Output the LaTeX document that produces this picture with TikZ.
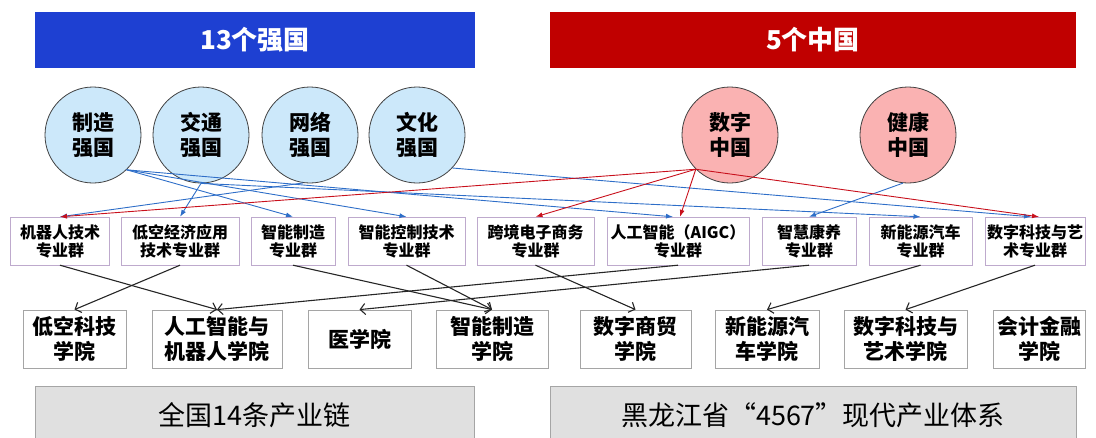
\documentclass[tikz,border=0pt]{standalone}
\usepackage{fontspec}
\setmainfont{Noto Sans CJK SC}
\usepackage{tikz}
\usetikzlibrary{arrows.meta}
\definecolor{bannerblue}{RGB}{30,64,210}
\definecolor{bannerred}{RGB}{192,0,0}
\definecolor{circblue}{RGB}{204,232,250}
\definecolor{circpink}{RGB}{250,178,178}
\definecolor{lineblue}{RGB}{46,110,200}
\definecolor{linered}{RGB}{200,16,28}
\definecolor{boxpurple}{RGB}{190,170,205}
\definecolor{boxgray}{RGB}{165,165,165}
\definecolor{bargray}{RGB}{224,224,224}
\tikzset{
  banner/.style={minimum height=56pt,inner sep=0pt,text=white,font=\bfseries\fontsize{26}{26}\selectfont},
  bar/.style={fill=bargray,draw=boxgray,minimum height=58pt,inner sep=0pt,font=\fontsize{27}{27}\selectfont},
}

\begin{document}
\begin{tikzpicture}[x=1pt,y=-1pt]
  \useasboundingbox (0,0) rectangle (1096,437);
  % top banners
  \node[banner,fill=bannerblue,minimum width=440pt] (qg) at (255,40)  {13个强国};
  \node[banner,fill=bannerred,minimum width=526pt]  (zg) at (813,40)  {5个中国};
  % circles
  \begin{scope}[every node/.style={circle,draw=black!75,thick,minimum size=96pt,inner sep=0pt,
      align=center,font=\bfseries\fontsize{21}{25}\selectfont}]
    \node[fill=circblue] (zz) at (93,135)  {制造\\强国};
    \node[fill=circblue] (jt) at (201,135) {交通\\强国};
    \node[fill=circblue] (wl) at (310,135) {网络\\强国};
    \node[fill=circblue] (wh) at (417,135) {文化\\强国};
    \node[fill=circpink] (sz) at (730,135) {数字\\中国};
    \node[fill=circpink] (jk) at (908,135) {健康\\中国};
  \end{scope}
  % professional groups
  \begin{scope}[every node/.style={rectangle,draw=boxpurple,fill=white,minimum height=48pt,inner sep=0pt,
      align=center,font=\bfseries\fontsize{16}{18}\selectfont}]
    \node[minimum width=99pt]  (jqr)  at (60,241)    {机器人技术\\专业群};
    \node[minimum width=118pt] (dk)   at (180,241)   {低空经济应用\\技术专业群};
    \node[minimum width=84pt]  (znzz) at (293,241)   {智能制造\\专业群};
    \node[minimum width=117pt] (znkz) at (406.5,241) {智能控制技术\\专业群};
    \node[minimum width=117pt] (kj)   at (535.5,241) {跨境电子商务\\专业群};
    \node[minimum width=142pt] (ai)   at (678,241)   {人工智能（AIGC）\\专业群};
    \node[minimum width=94pt]  (zhky) at (809,241)   {智慧康养\\专业群};
    \node[minimum width=103pt] (xny)  at (920.5,241) {新能源汽车\\专业群};
    \node[minimum width=100pt] (szkj) at (1035,241)  {数字科技与艺\\术专业群};
  \end{scope}
  % colleges
  \begin{scope}[every node/.style={rectangle,draw=boxgray,thick,fill=white,minimum height=58pt,inner sep=0pt,
      align=center,font=\bfseries\fontsize{21}{25}\selectfont}]
    \node[minimum width=103pt] (dkxy)  at (74.5,339)  {低空科技\\学院};
    \node[minimum width=130pt] (aixy)  at (217,339)   {人工智能与\\机器人学院};
    \node[minimum width=103pt] (yxy)   at (359.5,339) {医学院};
    \node[minimum width=112pt] (zzxy)  at (492,339)   {智能制造\\学院};
    \node[minimum width=111pt] (smxy)  at (635.5,339) {数字商贸\\学院};
    \node[minimum width=104pt] (xnyxy) at (767,339)   {新能源汽\\车学院};
    \node[minimum width=123pt] (kjxy)  at (905.5,339) {数字科技与\\艺术学院};
    \node[minimum width=92pt]  (kjjr)  at (1039,339)  {会计金融\\学院};
  \end{scope}
  % bottom bars
  \node[bar,minimum width=439pt] (cyl)  at (254.5,415) {全国14条产业链};
  \node[bar,minimum width=526pt] (hlj)  at (813,415)   {黑龙江省“4567”现代产业体系};
  % strong-country links
  \begin{scope}[>={Latex[length=7pt,width=5pt]},every edge/.style={draw=lineblue,line width=0.9pt,->}]
    \path (zz.-46) edge (znzz.north);     \path (zz.-46) edge (znkz.north);
    \path (zz.-46) edge ([xshift=-5pt]ai.north);
    \path (jt.-90) edge (dk.north);       \path (jt.-90) edge (xny.north);
    \path (wl.-98) edge (jqr.north);      \path (wh.-43) edge ([xshift=-4pt]szkj.north);
    \path (jk.-96) edge (zhky.north);
  \end{scope}
  \begin{scope}[>={Latex[length=7pt,width=5pt]},every edge/.style={draw=linered,line width=0.9pt,->}]
    \path (sz.-135) edge (jqr.north);     \path (sz.-135) edge (kj.north);
    \path (sz.-135) edge ([xshift=2pt]ai.north);
    \path (sz.-135) edge ([xshift=4pt]szkj.north);
  \end{scope}
  % group to college links
  \begin{scope}[>={Straight Barb[length=5pt,width=11pt]},every edge/.style={draw=black!85,line width=1.1pt,->}]
    \path (jqr.south) edge (aixy.north);  \path (dk.south) edge (dkxy.north);
    \path (znzz.south) edge (zzxy.north); \path (znkz.south) edge (zzxy.north);
    \path (kj.south) edge (smxy.north);   \path (ai.south) edge (aixy.north);
    \path (zhky.south) edge (yxy.north);  \path (xny.south) edge (xnyxy.north);
    \path (szkj.south) edge (kjxy.north);
  \end{scope}
\end{tikzpicture}
\end{document}
